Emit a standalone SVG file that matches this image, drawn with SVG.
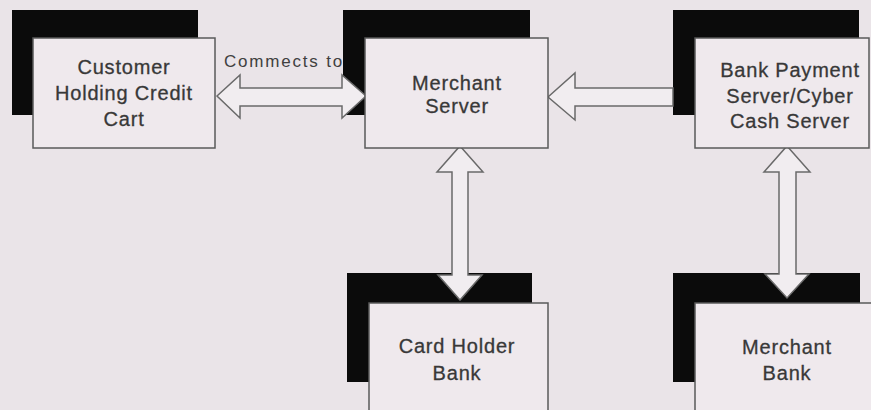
<svg xmlns="http://www.w3.org/2000/svg" width="871" height="410" viewBox="0 0 871 410">
<style>
.bg{fill:#eae4e8}
.sh{fill:#0b0b0b}
.box{fill:#efe9ed;stroke:#5a5a5a;stroke-width:1.5}
.arr{fill:#f1edf0;stroke:#6a6a6a;stroke-width:1.5;stroke-linejoin:miter}
.t{font-family:"Liberation Sans",Arial,sans-serif;font-size:20px;letter-spacing:0.8px;fill:#383838;stroke:#383838;stroke-width:0.3;text-anchor:middle}
.lbl{font-family:"Liberation Sans",Arial,sans-serif;font-size:17px;letter-spacing:1.8px;fill:#404040}
</style>
<rect class="bg" x="0" y="0" width="871" height="410"/>
<text class="lbl" x="224" y="67">Commects to</text>
<g id="shadows">
<rect class="sh" x="12" y="10" width="186" height="105"/>
<rect class="sh" x="343" y="10" width="187" height="105"/>
<rect class="sh" x="673" y="10" width="186" height="105"/>
<rect class="sh" x="347" y="273" width="185" height="109"/>
<rect class="sh" x="673" y="273" width="187" height="109"/>
</g>
<g id="connectors">
<polygon class="arr" points="217,96 240,75 240,88 342,88 342,75 366,96 342,118 342,106 240,106 240,118"/>
<polygon class="arr" points="548,97 575,73 575,88 673,88 673,106 575,106 575,120"/>
<polygon class="arr" points="460,146 483,172 468,172 468,275 482,275 460,300 438,275 452,275 452,172 437,172"/>
<polygon class="arr" points="787,146 810,172 796,172 796,274 809,274 787,298 765,274 779,274 779,172 764,172"/>
</g>
<g id="customer">
<rect class="box" x="33" y="38" width="182" height="110"/>
<text class="t" x="124" y="74">Customer</text>
<text class="t" x="124" y="100">Holding Credit</text>
<text class="t" x="124" y="126">Cart</text>
</g>
<g id="merchant-server">
<rect class="box" x="365" y="38" width="183" height="110"/>
<text class="t" x="457" y="90">Merchant</text>
<text class="t" x="457" y="113">Server</text>
</g>
<g id="bank-payment">
<rect class="box" x="695" y="38" width="174" height="110"/>
<text class="t" x="790" y="77">Bank Payment</text>
<text class="t" x="790" y="103">Server/Cyber</text>
<text class="t" x="790" y="128">Cash Server</text>
</g>
<g id="card-holder-bank">
<rect class="box" x="369" y="303" width="179" height="115"/>
<text class="t" x="457" y="353">Card Holder</text>
<text class="t" x="457" y="380">Bank</text>
</g>
<g id="merchant-bank">
<rect class="box" x="695" y="303" width="180" height="115"/>
<text class="t" x="787" y="354">Merchant</text>
<text class="t" x="787" y="380">Bank</text>
</g>
</svg>
